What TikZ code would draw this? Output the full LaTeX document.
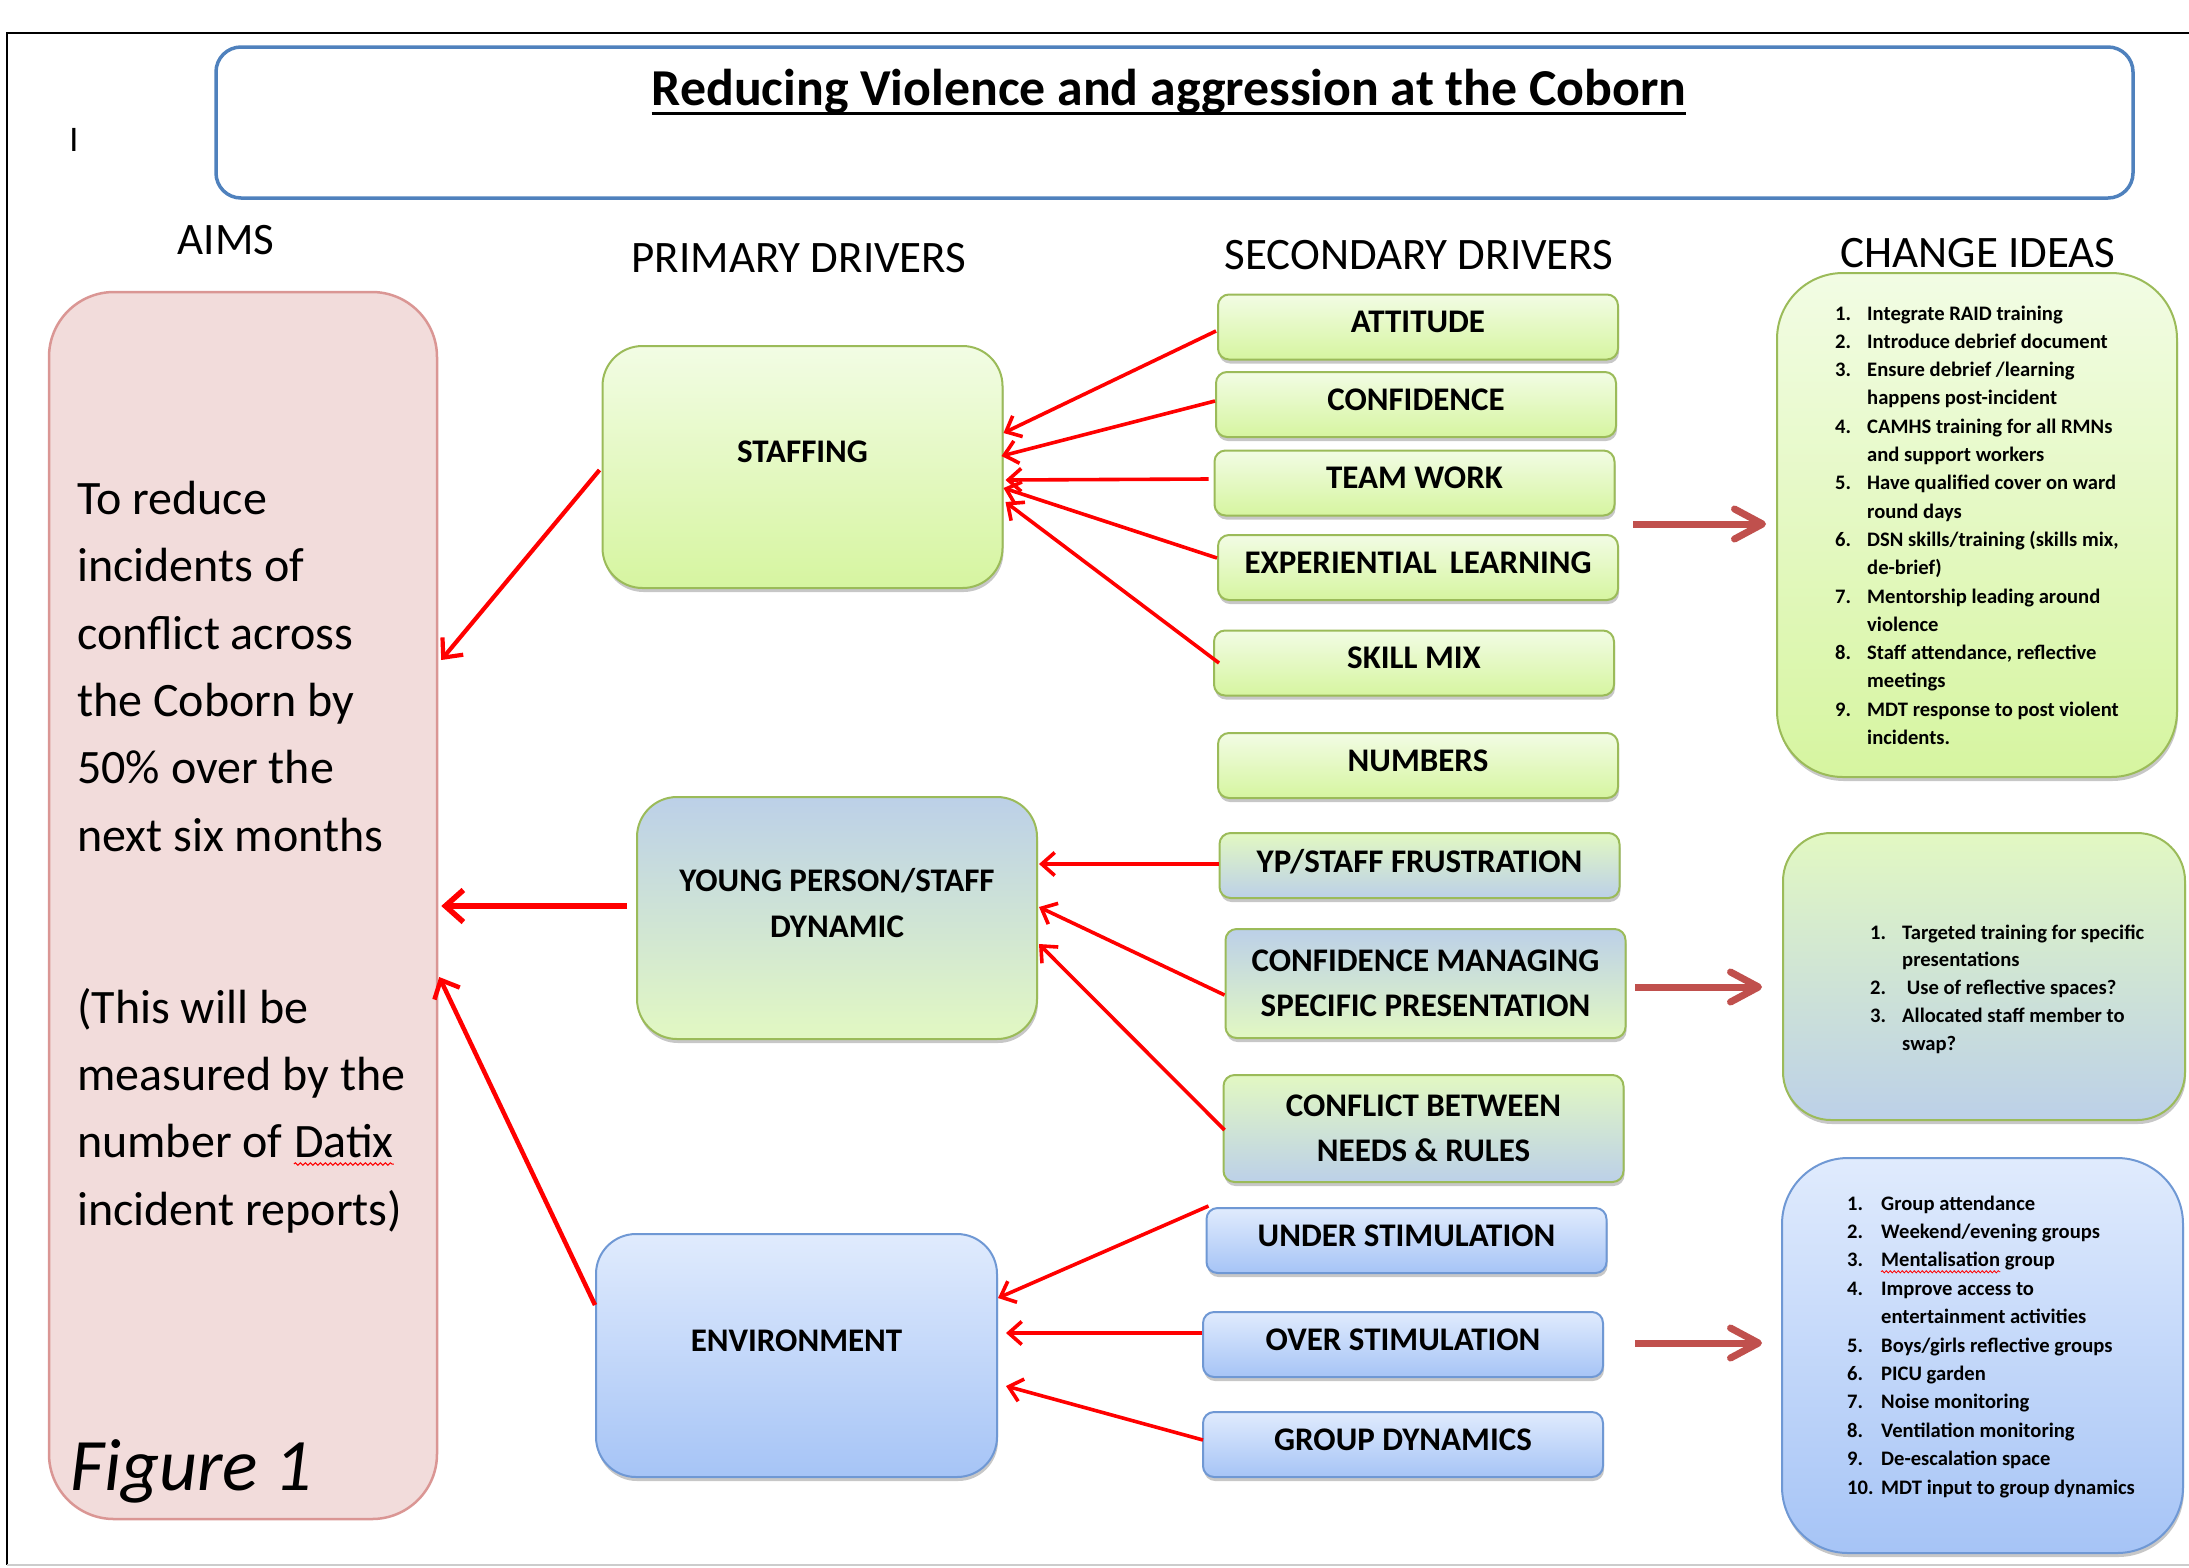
\documentclass[tikz,border=0pt]{standalone}
\usepackage{fontspec}
\setmainfont{Carlito}
\usetikzlibrary{arrows.meta,shadows,calc,decorations.pathmorphing}

\definecolor{gtop}{HTML}{F2FCE4}
\definecolor{gbot}{HTML}{D6F5A0}
\definecolor{gmid}{HTML}{E2F8C2}
\definecolor{gborder}{HTML}{9BBB59}
\definecolor{btop}{HTML}{E0EBFD}
\definecolor{bbot}{HTML}{A6C4F6}
\definecolor{bborder}{HTML}{6F98D4}
\definecolor{mixb}{HTML}{BCD0E8}
\definecolor{pinkfill}{HTML}{F2DCDB}
\definecolor{pinkborder}{HTML}{DA9694}
\definecolor{titleborder}{HTML}{4F81BD}
\definecolor{bigarrow}{HTML}{C0504D}

\begin{document}
\begin{tikzpicture}[x=1pt,y=-1pt,
  shad/.style={drop shadow={shadow xshift=1pt,shadow yshift=-4pt,opacity=0.22,fill=black}},
  gfill/.style={draw=gborder,top color=gtop,bottom color=gbot},
  bfill/.style={draw=bborder,top color=btop,bottom color=bbot},
  gbfill/.style={draw=gborder,top color=gmid,bottom color=mixb},
  bgfill/.style={draw=gborder,top color=mixb,bottom color=gmid},
  secbox/.style={rounded corners=11pt,minimum width=400pt,minimum height=65pt,inner sep=0pt,line width=2pt,align=center,text depth=10pt,font=\bfseries\fontsize{33}{45}\selectfont,shad},
  pribox/.style={rounded corners=40pt,minimum width=400pt,minimum height=242pt,inner sep=0pt,line width=2pt,align=center,text depth=30pt,font=\bfseries\fontsize{33}{46}\selectfont,shad},
  idbox/.style={rounded corners=#1,inner sep=0pt,line width=2pt,shad},
  idtext/.style={anchor=base west,inner sep=0pt,font=\bfseries\fontsize{20.6}{24}\selectfont},
  aimtext/.style={anchor=base west,inner sep=0pt,font=\fontsize{48}{48}\selectfont},
  heading/.style={inner sep=0pt,font=\fontsize{45}{45}\selectfont},
  conn/.style={draw=red,line width=3.6pt,-{Straight Barb[length=13pt,width=23pt]}},
  bigarr/.style={draw=bigarrow,line width=7pt,-{Straight Barb[length=28pt,width=30pt,round]}},
  wavy/.style={draw=red,line width=1pt,decorate,decoration={snake,amplitude=1.2pt,segment length=5pt}}
]
\useasboundingbox (0,0) rectangle (2189,1567);

% outer frame
\draw[line width=2pt] (2189,33) -- (7,33) -- (7,1565);
\draw[black!20,line width=2pt] (7,1565) -- (2189,1565);

% title
\node[draw=titleborder,line width=3.5pt,rounded corners=25pt,minimum width=1917pt,minimum height=151pt,inner sep=0pt] (tbox) at (1174.5,122.5) {};
\node[anchor=base,inner sep=0pt,font=\bfseries\fontsize{51.8}{52}\selectfont] (title) at (1169,105) {Reducing Violence and aggression at the Coborn};
\draw[line width=3pt] ($(title.base west)+(0,8)$) -- ($(title.base east)+(0,8)$);
\node[inner sep=0pt,font=\fontsize{36}{36}\selectfont] (cursor) at (74,140) {I};

% headings
\node[heading] (h1) at (226,240) {AIMS};
\node[heading] (h2) at (799,258) {PRIMARY DRIVERS};
\node[heading] (h3) at (1419,255) {SECONDARY DRIVERS};
\node[heading] (h4) at (1978,253) {CHANGE IDEAS};

% aims
\node[draw=pinkborder,fill=pinkfill,line width=2.5pt,rounded corners=65pt,minimum width=388pt,minimum height=1227pt,inner sep=0pt] (aims) at (243,905.5) {};
\node[aimtext] (a1) at (77,514) {To reduce};
\node[aimtext] (a2) at (77,581) {incidents of};
\node[aimtext] (a3) at (77,649) {conflict across};
\node[aimtext] (a4) at (77,716) {the Coborn by};
\node[aimtext] (a5) at (77,783) {50\% over the};
\node[aimtext] (a6) at (77,851) {next six months};
\node[aimtext] (a7) at (77,1023) {(This will be};
\node[aimtext] (a8) at (77,1090) {measured by the};
\node[aimtext] (a9) at (77,1157) {number of};
\node[aimtext] (datix) at ($(a9.base east)+(11,0)$) {Datix};
\draw[wavy] ($(datix.base west)+(0,7)$) -- ($(datix.base east)+(0,7)$);
\node[aimtext] (a10) at (77,1225) {incident reports)};
\node[anchor=base west,inner sep=0pt,font=\itshape\fontsize{74}{74}\selectfont] (fig) at (70,1490) {Figure 1};

% primary drivers
\node[pribox,gfill] (staff) at (802.5,467) {STAFFING};
\node[pribox,bgfill] (yp) at (837,918) {YOUNG PERSON/STAFF\\DYNAMIC};
\node[pribox,bfill,minimum width=401pt,minimum height=243pt] (env) at (796.5,1355.5) {ENVIRONMENT};

% secondary drivers
\node[secbox,gfill] (att) at (1418,327) {ATTITUDE};
\node[secbox,gfill] (conf) at (1416,404.5) {CONFIDENCE};
\node[secbox,gfill] (team) at (1414.5,483) {TEAM WORK};
\node[secbox,gfill] (exp) at (1418,567.5) {EXPERIENTIAL\hspace{0.4em}LEARNING};
\node[secbox,gfill] (skill) at (1414,663) {SKILL MIX};
\node[secbox,gfill] (num) at (1418,765.5) {NUMBERS};
\node[secbox,gbfill] (ypf) at (1419.5,865.5) {YP/STAFF FRUSTRATION};
\node[secbox,bgfill,minimum height=109pt,text depth=0pt] (cmsp) at (1425.5,983.5) {CONFIDENCE MANAGING\\SPECIFIC PRESENTATION};
\node[secbox,gbfill,minimum height=107pt,text depth=0pt] (cbnr) at (1423.5,1128.5) {CONFLICT BETWEEN\\NEEDS \& RULES};
\node[secbox,bfill] (under) at (1406.5,1240.5) {UNDER STIMULATION};
\node[secbox,bfill] (over) at (1403,1344.5) {OVER STIMULATION};
\node[secbox,bfill] (group) at (1403,1444.5) {GROUP DYNAMICS};

% change idea boxes
\node[idbox=66pt,gfill,minimum width=400pt,minimum height=504pt] (ch1) at (1977,525) {};
\node[idbox=48pt,gbfill,minimum width=402pt,minimum height=287pt] (ch2) at (1984,976.5) {};
\node[idbox=66pt,bfill,minimum width=401pt,minimum height=395pt] (ch3) at (1982.5,1355.5) {};

\foreach \n/\t [count=\i from 0] in {
  {1.}/{Integrate RAID training},
  {2.}/{Introduce debrief document},
  {3.}/{Ensure debrief /learning},
  {}/{happens post-incident},
  {4.}/{CAMHS training for all RMNs},
  {}/{and support workers},
  {5.}/{Have qualified cover on ward},
  {}/{round days},
  {6.}/{DSN skills/training (skills mix,},
  {}/{de-brief)},
  {7.}/{Mentorship leading around},
  {}/{violence},
  {8.}/{Staff attendance, reflective},
  {}/{meetings},
  {9.}/{MDT response to post violent},
  {}/{incidents.}}{
  \node[idtext] (c1n\i) at (1835,320+28.3*\i) {\n};
  \node[idtext] (c1t\i) at (1867,320+28.3*\i) {\t};
}

\foreach \n/\t [count=\i from 0] in {
  {1.}/{Targeted training for specific},
  {}/{presentations},
  {2.}/{\ Use of reflective spaces?},
  {3.}/{Allocated staff member to},
  {}/{swap?}}{
  \node[idtext] (c2n\i) at (1870,939+27.8*\i) {\n};
  \node[idtext] (c2t\i) at (1902,939+27.8*\i) {\t};
}

\foreach \i/\n/\t in {
  0/{1.}/{Group attendance},
  1/{2.}/{Weekend/evening groups},
  3/{4.}/{Improve access to},
  4/{}/{entertainment activities},
  5/{5.}/{Boys/girls reflective groups},
  6/{6.}/{PICU garden},
  7/{7.}/{Noise monitoring},
  8/{8.}/{Ventilation monitoring},
  9/{9.}/{De-escalation space},
  10/{10.}/{MDT input to group dynamics}}{
  \node[idtext] (c3n\i) at (1847,1210+28.4*\i) {\n};
  \node[idtext] (c3t\i) at (1881,1210+28.4*\i) {\t};
}
\node[idtext] (c3n2) at (1847,1210+28.4*2) {3.};
\node[idtext] (ment) at (1881,1210+28.4*2) {Mentalisation};
\node[idtext] (mentg) at ($(ment.base east)+(4.5,0)$) {group};
\draw[wavy,line width=0.8pt,decoration={snake,amplitude=1.1pt,segment length=4pt}] ($(ment.base west)+(0,5)$) -- ($(ment.base east)+(0,5)$);

% connectors secondary -> primary
\draw[conn] ($(att.west)+(-1,4)$) -- ($(staff.east)+(0,-34)$);
\draw[conn] ($(conf.west)+(0,-3.5)$) -- ($(staff.east)+(-2,-11)$);
\draw[conn] ($(team.west)+(-5,-4)$) -- ($(staff.east)+(2,13)$);
\draw[conn] ($(exp.west)+(0,-9.5)$) -- ($(staff.east)+(0,21)$);
\draw[conn] ($(skill.west)+(6,0)$) -- ($(staff.east)+(2,35)$);

\draw[conn] ($(ypf.west)+(0,-1.5)$) -- ($(yp.east)+(1,-54)$);
\draw[conn] ($(cmsp.west)+(0,11.5)$) -- ($(yp.east)+(1,-11)$);
\draw[conn] ($(cbnr.west)+(2,1.5)$) -- ($(yp.east)+(1,26)$);

\draw[conn] ($(under.north west)+(3,-1)$) -- ($(env.east)+(0,-57.5)$);
\draw[conn] ($(over.west)+(0,-11.5)$) -- ($(env.east)+(8,-22.5)$);
\draw[conn] ($(group.west)+(1,-4.5)$) -- ($(env.east)+(8,30.5)$);

% primary -> aims
\draw[conn,line width=4.2pt,-{Straight Barb[length=15pt,width=27pt]}] ($(staff.west)+(-2,3)$) -- ($(aims.east)+(3,-245.5)$);
\draw[conn,line width=5.5pt,-{Straight Barb[length=18pt,width=32pt]}] ($(yp.west)+(-9,-12)$) -- ($(aims.east)+(3,0.5)$);
\draw[conn,line width=4.5pt,-{Straight Barb[length=15pt,width=28pt]}] ($(env.west)+(0,-50.5)$) -- ($(aims.east)+(1,71.5)$);

% secondary -> change ideas
\coordinate (s1) at (1633,524);
\coordinate (s2) at (1635,987);
\coordinate (s3) at (1635,1343);
\draw[bigarr] (s1) -- ($(ch1.west)+(-10,-1)$);
\draw[bigarr] (s2) -- ($(ch2.west)+(-20,10.5)$);
\draw[bigarr] (s3) -- ($(ch3.west)+(-19,-12.5)$);
\end{tikzpicture}
\end{document}
